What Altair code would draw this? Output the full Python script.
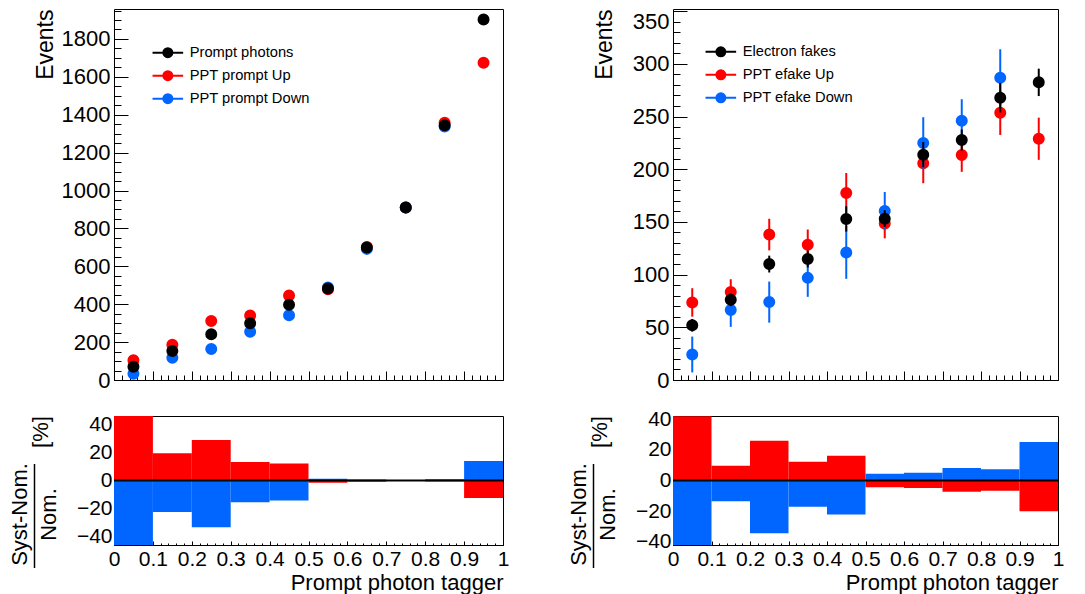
import altair as alt
import pandas as pd

FONT = "Liberation Sans"

# ---------------- data ----------------
bin_lo = [0.0, 0.1, 0.2, 0.3, 0.4, 0.5, 0.6, 0.7, 0.8, 0.9]
bin_hi = [0.1, 0.2, 0.3, 0.4, 0.5, 0.6, 0.7, 0.8, 0.9, 1.0]
bin_center = [0.05, 0.15, 0.25, 0.35, 0.45, 0.55, 0.65, 0.75, 0.85, 0.95]

prompt_names = ["Prompt photons", "PPT prompt Up", "PPT prompt Down"]
prompt_nom = [70, 153, 242, 299, 397, 483, 699, 911, 1345, 1902]
prompt_up = [104, 186, 311, 341, 446, 479, 702, 910, 1358, 1674]
prompt_down = [33, 118, 163, 255, 342, 488, 692, 910, 1338, 2168]

efake_names = ["Electron fakes", "PPT efake Up", "PPT efake Down"]
efake_nom = [51.9, 76.1, 110.0, 114.8, 152.8, 153.1, 213.8, 227.7, 267.9, 282.4]
efake_nom_err = [6, 6, 8, 8, 12, 8, 12, 10, 14, 13]
efake_up = [73.6, 83.6, 138.0, 128.3, 177.4, 148.4, 205.7, 213.5, 253.5, 228.9]
efake_up_err = [13.5, 12, 15, 14.5, 19, 14, 19, 16, 21, 20]
efake_down = [24.2, 66.4, 73.9, 96.9, 121.0, 160.4, 224.8, 245.9, 286.8, 353.0]
efake_down_err = [17, 16, 19.5, 18, 25, 18, 24.5, 20.5, 27, 28]

prompt_ratio_up = [49, 19.5, 29, 13.3, 12.2, -1.6, 0.7, 0.1, 0.9, -12.5]
prompt_ratio_down = [-53, -22.5, -33.5, -15.5, -14.3, 1.3, -0.9, -0.1, -0.7, 14]
efake_ratio_up = [42, 9.6, 26, 12.2, 16.2, -4.4, -4.9, -7.3, -6.7, -20]
efake_ratio_down = [-53, -13.6, -34.4, -17.1, -22.2, 4.4, 5.1, 8.2, 7.3, 25.1]

# tick values / labels
x_major = [0, 0.1, 0.2, 0.3, 0.4, 0.5, 0.6, 0.7, 0.8, 0.9, 1]
x_minor = [round(0.02 * i, 2) for i in range(51)]
prompt_y_labels = [0, 200, 400, 600, 800, 1000, 1200, 1400, 1600, 1800]
prompt_y_minor = list(range(0, 1951, 50))
efake_y_labels = [0, 50, 100, 150, 200, 250, 300]
efake_y_top_label = [350]
efake_y_minor = list(range(0, 351, 10))
ratio_y_labels = [-40, -20, 0, 20, 40]
prompt_ratio_minor = list(range(-45, 46, 5))
efake_ratio_minor = list(range(-40, 41, 5))

series_colors = ["#000000", "#ff0000", "#0066ff"]
RED = "#ff0000"
BLUE = "#0066ff"

PROMPT_YDOM = [0, 1958]
EFAKE_YDOM = [0, 352]
PROMPT_RDOM = [-46.2, 46.2]
EFAKE_RDOM = [-42.1, 42.1]

W_L, W_R = 389, 385
TOP_H, RAT_H = 371, 129
LEG_PATH = "M-2.55,0H2.55M0.75,0A0.75,0.75,0,1,1,-0.75,0A0.75,0.75,0,1,1,0.75,0Z"


def sx():
    return alt.Scale(domain=[0, 1], nice=False, zero=False)


def sy(dom, clamp=False):
    return alt.Scale(domain=dom, nice=False, zero=False, clamp=clamp)


def tick_layer(df, xf, yf, ydom, xv, yv, xs, ys, clamp=False):
    return alt.Chart(df).mark_point(opacity=0).encode(
        x=alt.X(f"{xf}:Q", scale=sx(),
                axis=alt.Axis(orient="bottom", values=xv, labels=False, domain=False, grid=False,
                              ticks=True, tickSize=xs, offset=-xs, tickColor="black", tickWidth=1,
                              title=None)),
        y=alt.Y(f"{yf}:Q", scale=sy(ydom, clamp),
                axis=alt.Axis(orient="left", values=yv, labels=False, domain=False, grid=False,
                              ticks=True, tickSize=ys, offset=-ys, tickColor="black", tickWidth=1,
                              title=None)),
    )


def top_panel(names, vals, errs, ydom, ylabels, yminor, width, legx, legy, top_label=None):
    rows = []
    for k, (name, v) in enumerate(zip(names, vals)):
        e = errs[k] if errs is not None else [0] * len(v)
        for c, yv, ev in zip(bin_center, v, e):
            rows.append({"series": name, "x": c, "y": yv, "lo": yv - ev, "hi": yv + ev})
    df = pd.DataFrame(rows)
    # points above the frame are not drawn (as in the original)
    inside = alt.datum.y <= ydom[1]

    main = alt.Chart(df).transform_filter(inside).mark_point(opacity=0).encode(
        x=alt.X("x:Q", scale=sx(), axis=None),
        y=alt.Y("y:Q", scale=sy(ydom),
                axis=alt.Axis(orient="left", values=ylabels, labels=True, ticks=False, domain=False,
                              grid=False, labelFontSize=22, labelPadding=4, format="d",
                              title="Events", titleFontSize=23, titleFontWeight="normal",
                              titleAnchor="end", titleX=-68.5, titleBaseline="middle")),
    )
    tdf = df[df["y"] <= ydom[1]]
    layers = [
        main,
        tick_layer(tdf, "x", "y", ydom, x_major, ylabels + (top_label or []), 9, 14),
        tick_layer(tdf, "x", "y", ydom, x_minor, yminor, 5, 7),
    ]
    if top_label:
        layers.append(alt.Chart(tdf).mark_point(opacity=0).encode(
            x=alt.X("x:Q", scale=sx(), axis=None),
            y=alt.Y("y:Q", scale=sy(ydom),
                    axis=alt.Axis(orient="left", values=top_label, labels=True, ticks=False,
                                  domain=False, grid=False, labelFontSize=22, labelPadding=4,
                                  format="d", labelBaseline="top", title=None)),
        ))

    cscale = alt.Scale(domain=names, range=series_colors)
    legend = alt.Legend(orient="none", legendX=legx, legendY=legy, title=None, padding=0,
                        symbolType=LEG_PATH, symbolSize=144, symbolStrokeWidth=2,
                        labelFontSize=14.7, labelFont=FONT, labelColor="black", labelOffset=14.5,
                        rowPadding=5, labelLimit=0)
    for i in [1, 2, 0]:
        name = names[i]
        base = alt.Chart(df).transform_filter(alt.datum.series == name).transform_filter(inside)
        if errs is not None:
            layers.append(
                base.mark_rule(color=series_colors[i], strokeWidth=2, clip=True)
                .encode(x=alt.X("x:Q", scale=sx(), axis=None),
                        y=alt.Y("lo:Q", scale=sy(ydom, True), axis=None),
                        y2="hi:Q"))
        layers.append(
            base.mark_point(filled=True, size=100, opacity=1).encode(
                x=alt.X("x:Q", scale=sx(), axis=None),
                y=alt.Y("y:Q", scale=sy(ydom), axis=None),
                fill=alt.Fill("series:N", scale=cscale, legend=legend),
                stroke=alt.Stroke("series:N", scale=cscale, legend=legend),
            ))
    return (alt.layer(*layers)
            .resolve_axis(x="independent", y="independent")
            .properties(width=width, height=TOP_H))


def ratio_panel(up, down, rdom, rminor, width):
    rdf = pd.DataFrame({"lo": bin_lo + bin_lo, "hi": bin_hi + bin_hi, "v": up + down,
                        "kind": ["up"] * len(up) + ["down"] * len(down)})
    main = alt.Chart(rdf).mark_point(opacity=0).encode(
        x=alt.X("lo:Q", scale=sx(),
                axis=alt.Axis(orient="bottom", values=x_major, labels=True, labelFlush=False,
                              format="~g",
                              ticks=False, domain=False, grid=False, labelFontSize=21,
                              labelPadding=3, title="Prompt photon tagger", titleFontSize=22,
                              titleFontWeight="normal", titleAnchor="end", titleAlign="right",
                              titleY=44, titleBaseline="alphabetic")),
        y=alt.Y("v:Q", scale=sy(rdom, True),
                axis=alt.Axis(orient="left", values=ratio_y_labels, ticks=False, domain=False,
                              grid=False, labelFontSize=21, labelPadding=2,
                              title=["Syst-Nom.", "Nom."], titleFontSize=22,
                              titleFontWeight="normal", titleX=-94.5, titleY=98,
                              titleAlign="center", titleBaseline="middle", titleLineHeight=29,
                              titleAngle=270)),
    )
    layers = [
        main,
        tick_layer(rdf, "lo", "v", rdom, x_major, ratio_y_labels, 4, 12, True),
        tick_layer(rdf, "lo", "v", rdom, x_minor, rminor, 2, 6, True),
    ]
    for kind, col in [("up", RED), ("down", BLUE)]:
        layers.append(
            alt.Chart(rdf).transform_filter(alt.datum.kind == kind)
            .mark_rect(color=col)
            .encode(x=alt.X("lo:Q", scale=sx(), axis=None), x2="hi:Q",
                    y=alt.Y("v:Q", scale=sy(rdom, True), axis=None), y2=alt.datum(0)))
    unit = pd.DataFrame({"t": ["[%]"]})
    layers.append(alt.Chart(unit).mark_rule(color="black", strokeWidth=2).encode(
        y=alt.YDatum(0, scale=sy(rdom, True), axis=None)))
    layers.append(alt.Chart(unit).mark_rule(color="black", strokeWidth=1.5).encode(
        x=alt.value(-79.5), y=alt.value(48), y2=alt.value(152)))
    layers.append(alt.Chart(unit).mark_text(angle=270, fontSize=22, font=FONT, color="black",
                                            align="center", baseline="middle").encode(
        text="t:N", x=alt.value(-73.5), y=alt.value(16)))
    return (alt.layer(*layers)
            .resolve_axis(x="independent", y="independent")
            .properties(width=width, height=RAT_H))


tl = top_panel(prompt_names, [prompt_nom, prompt_up, prompt_down], None,
               PROMPT_YDOM, prompt_y_labels, prompt_y_minor, W_L, 46.5, 36.3)
tr = top_panel(efake_names, [efake_nom, efake_up, efake_down],
               [efake_nom_err, efake_up_err, efake_down_err],
               EFAKE_YDOM, efake_y_labels, efake_y_minor, W_R, 40.5, 35.5,
               top_label=efake_y_top_label)
bl = ratio_panel(prompt_ratio_up, prompt_ratio_down, PROMPT_RDOM, prompt_ratio_minor, W_L)
br = ratio_panel(efake_ratio_up, efake_ratio_down, EFAKE_RDOM, efake_ratio_minor, W_R)

chart = (alt.concat(tl, tr, bl, br, columns=2, spacing={"row": 36, "column": 170},
                    bounds="flush")
         .resolve_scale(x="independent", y="independent", fill="independent",
                        stroke="independent")
         .resolve_legend(fill="independent", stroke="independent")
         .properties(padding={"left": 0, "top": 0, "right": 0, "bottom": 0})
         .configure(font=FONT)
         .configure_axis(labelColor="black", titleColor="black", labelFont=FONT,
                         titleFont=FONT)
         .configure_view(stroke="black", strokeWidth=1))

chart.save("out.html", embed_options={"renderer": "svg", "actions": False})
